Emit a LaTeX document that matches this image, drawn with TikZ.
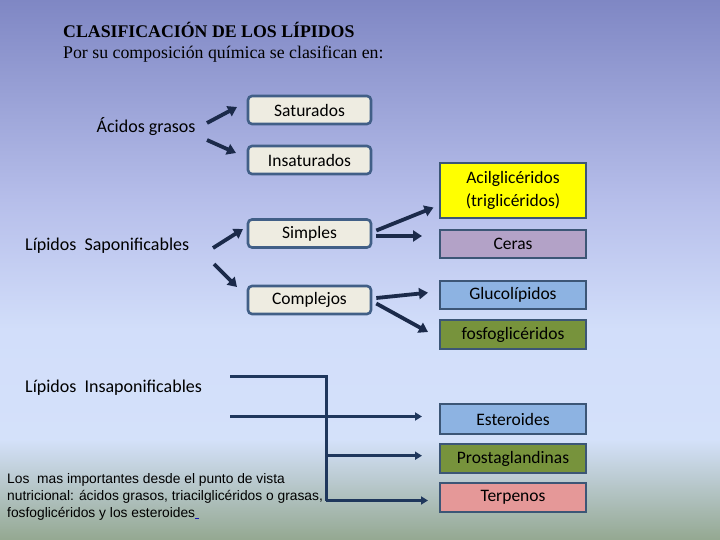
\documentclass[tikz,border=0pt]{standalone}
\usepackage{fontspec}
\setmainfont{Carlito}
\newfontfamily\titlefont{Liberation Serif}
\newfontfamily\notefont{Liberation Sans}
\usetikzlibrary{arrows.meta,calc}
\definecolor{bgA}{RGB}{127,135,196}
\definecolor{bgB}{RGB}{182,190,234}
\definecolor{bgC}{RGB}{210,222,250}
\definecolor{bgD}{RGB}{212,225,250}
\definecolor{bgE}{RGB}{148,168,145}
\definecolor{cream}{RGB}{238,236,225}
\definecolor{rborder}{RGB}{65,95,135}
\definecolor{sborder}{RGB}{60,86,118}
\definecolor{arrcol}{RGB}{27,42,74}
\definecolor{linecol}{RGB}{31,55,92}
\definecolor{yel}{RGB}{255,255,0}
\definecolor{purp}{RGB}{179,162,199}
\definecolor{lblue}{RGB}{141,179,226}
\definecolor{olive}{RGB}{119,147,60}
\definecolor{pink}{RGB}{229,152,152}
\definecolor{linkblue}{RGB}{20,20,180}
\begin{document}
\begin{tikzpicture}[x=1pt,y=-1pt,
  rbox/.style={draw=rborder,line width=2.6pt,fill=cream,rounded corners=4pt,
    minimum width=123pt,minimum height=28pt,inner sep=0pt,font=\fontsize{17.5}{20}\selectfont},
  sbox/.style={draw=sborder,line width=2.6pt,minimum width=146pt,minimum height=28pt,
    inner sep=0pt,font=\fontsize{17.5}{20}\selectfont},
  lbl/.style={anchor=base west,inner sep=0pt,font=\fontsize{18}{21}\selectfont},
  bigarr/.style={draw=arrcol,line width=3.8pt,-{Triangle[length=9pt,width=11pt]}},
  conn/.style={draw=linecol,line width=3pt},
  connarr/.style={conn,-{Triangle[length=7pt,width=8pt]}}]
\useasboundingbox (0,0) rectangle (720,540);
% background
\fill[top color=bgA,bottom color=bgB] (0,0) rectangle (720,200);
\fill[top color=bgB,bottom color=bgC] (0,199.5) rectangle (720,330);
\fill[top color=bgC,bottom color=bgD] (0,329.5) rectangle (720,440);
\fill[top color=bgD,bottom color=bgE] (0,439.5) rectangle (720,540);
% titles
\node[anchor=base west,inner sep=0pt,font=\titlefont\bfseries\fontsize{17.8}{21}\selectfont] (title) at (63,38) {CLASIFICACIÓN DE LOS LÍPIDOS};
\node[anchor=base west,inner sep=0pt,font=\titlefont\fontsize{17.8}{21}\selectfont] (subtitle) at (63,58.5) {Por su composición química se clasifican en:};
% left labels
\node[lbl] (acidos) at (96.5,133) {Ácidos grasos};
\node[lbl] (sapo) at (25,251) {Lípidos\ \ Saponificables};
\node[lbl] (insapo) at (25,392) {Lípidos\ \ Insaponificables};
% rounded boxes
\node[rbox] (sat) at (309.5,110) {Saturados};
\node[rbox] (insat) at (309.5,160) {Insaturados};
\node[rbox] (simp) at (309.5,233.5) {\raisebox{1.5pt}{Simples}};
\node[rbox] (comp) at (309.5,300) {Complejos};
% square boxes
\node[sbox,fill=yel,minimum height=55pt,align=center,font=\fontsize{17.5}{22.5}\selectfont] (acil) at (513,190.5) {Acilglicéridos\\(triglicéridos)};
\node[sbox,fill=purp] (ceras) at (513,244) {Ceras};
\node[sbox,fill=lblue] (gluco) at (513,295) {Glucolípidos};
\node[sbox,fill=olive,minimum height=29pt] (fosfo) at (513,334.5) {fosfoglicéridos};
\node[sbox,fill=lblue,minimum height=30pt] (ester) at (513,419) {Esteroides};
\node[sbox,fill=olive,minimum height=29pt] (prosta) at (513,458.5) {Prostaglandinas};
\node[sbox,fill=pink,minimum height=29pt] (terp) at (513,497.5) {Terpenos};
% arrows fatty acids
\coordinate (a1s) at (207,123); \coordinate (a1e) at (237,107);
\coordinate (a2s) at (207,140); \coordinate (a2e) at (236,153);
\draw[bigarr] (a1s) -- (a1e);
\draw[bigarr] (a2s) -- (a2e);
% saponificables arrows
\coordinate (b1s) at (213,248); \coordinate (b1e) at (243,229);
\coordinate (b2s) at (214,264); \coordinate (b2e) at (237,287);
\draw[bigarr] (b1s) -- (b1e);
\draw[bigarr] (b2s) -- (b2e);
% simples / complejos arrows
\draw[bigarr] ($(simp.east)+(4,-3)$) -- (433.5,207.5);
\draw[bigarr] ($(simp.east)+(4,2.5)$) -- (422,236);
\draw[bigarr] ($(comp.east)+(4,-2)$) -- (428,292.7);
\draw[bigarr] ($(comp.east)+(4,3.5)$) -- (428,332);
% insaponificables connectors
\coordinate (c1) at (230,376); \coordinate (c2) at (326,376);
\coordinate (c3) at (326,500.5); \coordinate (c4) at (230,416.5);
\coordinate (c5) at (326,455.7);
\coordinate (e1) at (422,416.5); \coordinate (e2) at (422,455.7); \coordinate (e3) at (428,500.5);
\draw[conn] (c1) -- (c2) -- (c3);
\draw[connarr] (c4) -- (e1);
\draw[connarr] (c5) -- (e2);
\draw[connarr] (c3) -- (e3);
% note text
\node[anchor=base west,inner sep=0pt,align=left,font=\notefont\fontsize{13.8}{17}\selectfont] (note) at (7,517)
 {Los\ \ mas importantes desde el punto de vista\\
  nutricional: ácidos grasos, triacilglicéridos o grasas,\\
  fosfoglicéridos y los esteroides{\color{linkblue}\underline{\ }}};
\end{tikzpicture}
\end{document}
